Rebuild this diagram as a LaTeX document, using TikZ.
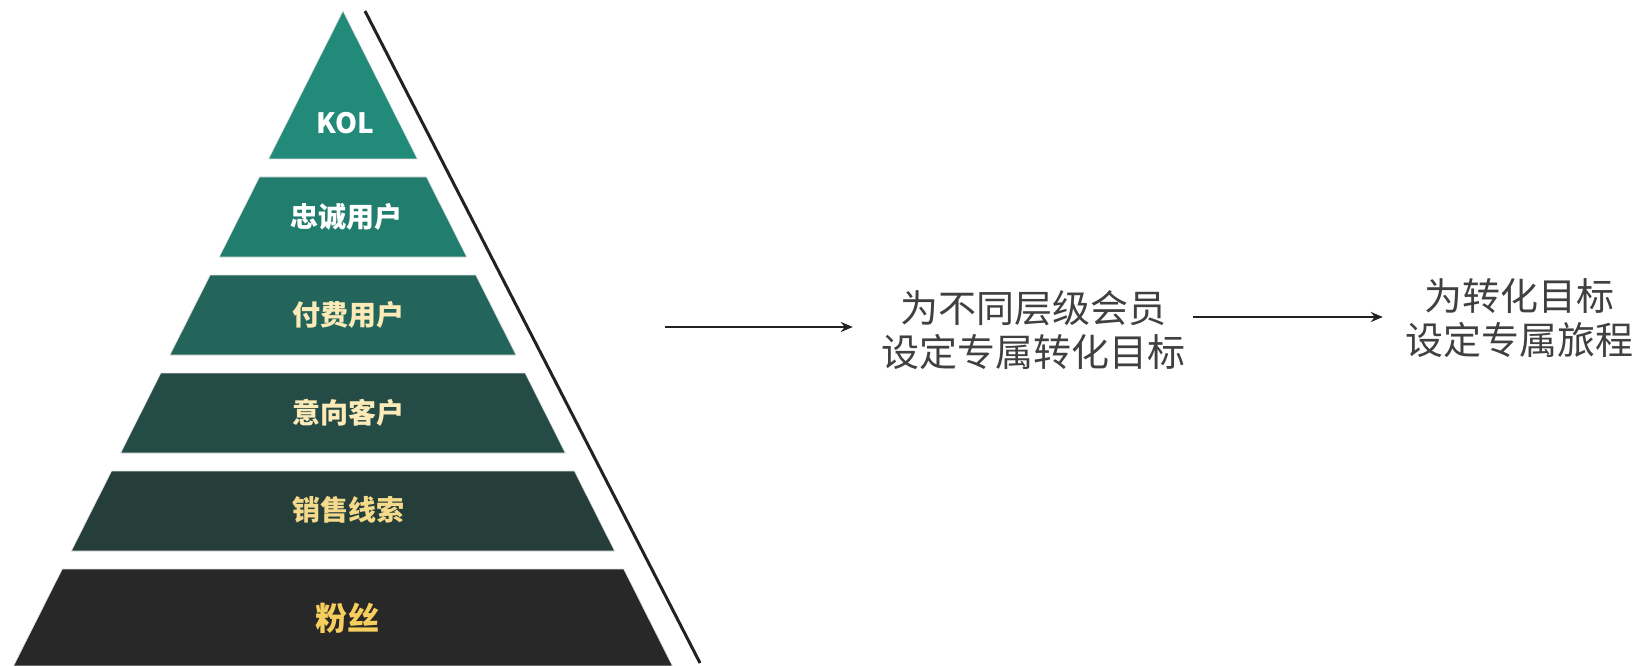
\documentclass[tikz,border=0pt]{standalone}
\usepackage{fontspec}
\setmainfont{Noto Sans CJK SC}
\newfontfamily\cjk{Noto Sans CJK SC}
\usetikzlibrary{arrows.meta,calc}
\definecolor{cA}{RGB}{33,138,120}
\definecolor{cB}{RGB}{33,125,110}
\definecolor{cC}{RGB}{35,101,90}
\definecolor{cD}{RGB}{37,75,70}
\definecolor{cE}{RGB}{38,62,58}
\definecolor{cF}{RGB}{40,40,40}
\definecolor{tW}{RGB}{255,255,255}
\definecolor{tCream}{RGB}{252,234,184}
\definecolor{tYel}{RGB}{246,218,140}
\definecolor{tGold}{RGB}{245,206,92}
\definecolor{ink}{RGB}{34,34,34}
\definecolor{gtext}{RGB}{64,64,64}
\tikzset{
  layerbox/.style={draw=black!12,line width=0.6pt},
  lbl/.style={inner sep=0pt,font=\cjk\bfseries\fontsize{28}{32}\selectfont},
  rtext/.style={inner sep=0pt,align=center,text=gtext,font=\cjk\fontsize{38}{44}\selectfont},
  arr/.style={draw=ink,line width=2.6pt,-{Stealth[length=12pt,width=10pt]}},
  divider/.style={draw=ink,line width=3pt}
}
\begin{document}
\begin{tikzpicture}[x=1pt,y=-1pt]
\useasboundingbox (0,0) rectangle (1639,666);
\def\ax{343}\def\ay{11}\def\sl{0.503}
% layers
\foreach \ya/\yb/\fc in {11/159/cA,177/257/cB,275/355/cC,373/453/cD,471/551/cE,569/666/cF}{
  \pgfmathsetmacro\ha{\sl*(\ya-\ay)}
  \pgfmathsetmacro\hb{\sl*(\yb-\ay)}
  \fill[\fc,layerbox] (\ax-\ha,\ya) -- (\ax+\ha,\ya) -- (\ax+\hb,\yb) -- (\ax-\hb,\yb) -- cycle;
}
% labels
\node[lbl,text=tW] (kol) at (345,123) {KOL};
\node[lbl,text=tW] (loyal) at (346,217) {忠诚用户};
\node[lbl,text=tCream] (paid) at (348,315) {付费用户};
\node[lbl,text=tCream] (intent) at (348,413) {意向客户};
\node[lbl,text=tYel] (leads) at (348,510) {销售线索};
\node[lbl,text=tGold,font=\cjk\bfseries\fontsize{32}{36}\selectfont] (fans) at (347,618) {粉丝};
% divider line
\coordinate (l1) at (365,11);
\coordinate (l2) at (700,663);
\draw[divider] (l1) -- (l2);
% right texts
\node[rtext] (t1) at (1033,330) {为不同层级会员\\设定专属转化目标};
\node[rtext] (t2) at (1519,318) {为转化目标\\设定专属旅程};
% arrows
\coordinate (c1) at (665,327);
\coordinate (c2) at (1195,317);
\draw[arr,shorten >=28pt] (c1) -- (c1 -| t1.west);
\draw[arr,shorten <=8pt,shorten >=22pt] (t1.east |- c2) -- (c2 -| t2.west);
\end{tikzpicture}
\end{document}
